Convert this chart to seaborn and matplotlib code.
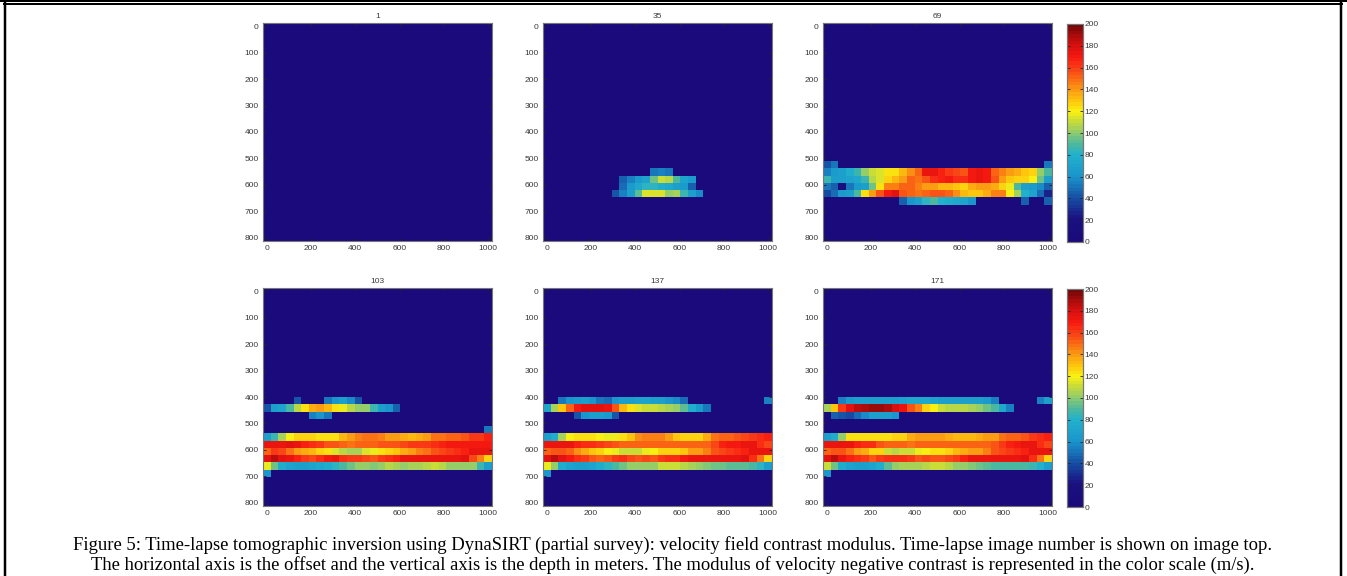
import numpy as np
import pandas as pd
import seaborn as sns
import matplotlib.pyplot as plt
from matplotlib.colors import LinearSegmentedColormap
from matplotlib.lines import Line2D

# image numbers on top of each panel
titles = ['1', '35', '69', '103', '137', '171']
x_ticks = [0, 200, 400, 600, 800, 1000]
y_ticks = [0, 100, 200, 300, 400, 500, 600, 700, 800]
cbar_ticks = [0, 20, 40, 60, 80, 100, 120, 140, 160, 180, 200]

# grid is 30 x 30 cells, offsets 0-1000 m, depth 0-800 m
n_cells = 30
offsets = np.linspace(0, 1000, n_cells)
depths = np.linspace(0, 800, n_cells)

# image 35: (row, first column, values)
p35_r20 = [50, 54, 50]
p35_r21 = [45, 55, 65, 70, 95, 110, 108, 90, 70, 65]
p35_r22 = [48, 65, 72, 82, 82, 78, 72, 68, 65, 45]
p35_r23 = [42, 55, 67, 92, 113, 113, 113, 103, 105, 85, 68, 58]

# image 69
p69_r19a = [42, 50]
p69_r19b = [50]
p69_r20 = [55, 65, 68, 75, 85, 103, 110, 115, 122, 124, 133, 143, 150, 172, 172,
           168, 160, 158, 156, 170, 172, 170, 150, 145, 138, 135, 130, 125, 100, 88]
p69_r21 = [85, 68, 68, 70, 72, 85, 108, 115, 128, 132, 140, 150, 148, 155, 165,
           168, 170, 165, 165, 170, 172, 170, 155, 140, 130, 125, 125, 120, 95, 68]
p69_r22 = [50, 45, 15, 50, 65, 68, 95, 122, 145, 145, 150, 150, 145, 140, 138,
           132, 132, 130, 128, 135, 138, 140, 135, 125, 118, 90, 68, 65, 58, 45]
p69_r23 = [40, 48, 65, 68, 90, 122, 138, 155, 170, 175, 155, 152, 148, 150, 155,
           155, 150, 142, 132, 130, 130, 135, 145, 145, 120, 105, 80, 70, 48, 25]
p69_r24a = [45, 62, 68, 82, 88, 80, 76, 74, 70, 62]
p69_r24b = [45]
p69_r24c = [45]

# image 103
p103_r15a = [42]
p103_r15b = [50, 60, 66, 58, 42]
p103_r16 = [42, 68, 70, 90, 108, 122, 135, 140, 132, 122, 118, 108, 103, 100, 85, 68, 62, 45]
p103_r17 = [55, 62, 50]
p103_r19 = [50]
p103_r20 = [68, 85, 105, 120, 125, 126, 126, 122, 124, 123, 132, 138, 145, 148, 148,
            145, 138, 140, 136, 134, 137, 140, 148, 148, 150, 152, 155, 160, 162, 168]
p103_r21 = [172, 172, 172, 175, 172, 168, 165, 162, 155, 155, 150, 148, 150, 150, 150,
            155, 155, 155, 158, 160, 160, 162, 165, 168, 170, 170, 170, 170, 170, 170]
p103_r22 = [150, 160, 158, 148, 140, 135, 132, 128, 122, 114, 108, 104, 104, 115, 118,
            122, 125, 130, 135, 140, 145, 148, 155, 158, 160, 165, 168, 172, 172, 172]
p103_r23 = [178, 185, 175, 172, 168, 160, 158, 165, 170, 172, 165, 162, 160, 158, 155,
            160, 165, 168, 172, 172, 172, 172, 172, 172, 172, 172, 175, 158, 145, 125]
p103_r24 = [118, 95, 75, 70, 66, 66, 70, 72, 75, 82, 90, 95, 100, 100, 98,
            102, 108, 105, 102, 104, 104, 108, 110, 108, 102, 100, 100, 100, 85, 68]
p103_r25 = [60]

# image 137
p137_r15a = [50, 62, 65, 68, 60, 52, 48, 60, 66, 68, 70, 70, 68, 68, 62, 58, 48]
p137_r15b = [55]
p137_r16 = [70, 105, 130, 152, 170, 175, 178, 176, 172, 155, 132, 122, 113, 112, 110,
            108, 105, 100, 92, 75, 65, 50]
p137_r17 = [42, 60, 66, 68, 65, 42]
p137_r20 = [68, 78, 105, 120, 122, 122, 122, 120, 118, 116, 122, 130, 142, 145, 145,
            145, 140, 130, 128, 126, 128, 135, 148, 150, 152, 155, 158, 162, 165, 168]
p137_r21 = [172, 172, 172, 172, 168, 165, 165, 160, 158, 155, 152, 150, 150, 150, 150,
            150, 150, 150, 150, 150, 150, 150, 158, 168, 170, 170, 172, 172, 165, 158]
p137_r22 = [150, 155, 155, 150, 142, 135, 130, 128, 120, 118, 112, 110, 112, 118, 120,
            125, 128, 128, 130, 138, 140, 145, 155, 158, 160, 165, 168, 172, 172, 172]
p137_r23 = [178, 185, 175, 170, 165, 160, 155, 150, 155, 160, 165, 158, 155, 158, 155,
            160, 165, 165, 170, 172, 172, 172, 172, 172, 172, 172, 175, 165, 148, 125]
p137_r24 = [118, 100, 78, 70, 68, 68, 70, 75, 82, 90, 96, 100, 100, 100, 100,
            110, 112, 112, 108, 105, 102, 98, 96, 94, 92, 92, 92, 88, 82, 68]
p137_r25 = [62]

# image 171
p171_r15a = [55, 65, 68, 68, 68, 66, 66, 66, 70, 72, 72, 72, 70, 68, 66, 66, 66, 66, 66, 64, 55]
p171_r15b = [55, 68]
p171_r16 = [105, 130, 160, 175, 185, 190, 192, 192, 188, 180, 172, 155, 145, 128, 120,
            110, 108, 108, 108, 106, 102, 95, 88, 72, 55]
p171_r17 = [45, 42, 38, 48, 58, 68, 68, 66, 60]
p171_r20 = [68, 78, 100, 122, 124, 124, 124, 122, 122, 125, 128, 135, 138, 140, 140,
            140, 136, 134, 132, 134, 136, 138, 140, 148, 150, 152, 155, 160, 165, 168]
p171_r21 = [172, 172, 172, 172, 168, 165, 165, 155, 150, 150, 150, 148, 150, 150, 150,
            150, 150, 150, 150, 150, 150, 150, 155, 160, 168, 170, 172, 172, 165, 158]
p171_r22 = [150, 155, 155, 148, 140, 135, 128, 125, 112, 108, 110, 112, 118, 120, 122,
            122, 125, 132, 135, 138, 140, 145, 155, 158, 160, 165, 168, 172, 172, 172]
p171_r23 = [178, 185, 172, 168, 165, 160, 155, 162, 165, 165, 165, 160, 155, 158, 155,
            155, 158, 162, 168, 172, 172, 172, 172, 172, 172, 172, 175, 165, 148, 125]
p171_r24 = [110, 95, 78, 70, 68, 68, 70, 78, 92, 100, 105, 105, 105, 108, 110,
            110, 108, 102, 100, 98, 96, 92, 90, 88, 88, 88, 88, 86, 80, 68]
p171_r25 = [62]

caption1 = ('Figure 5: Time-lapse tomographic inversion using DynaSIRT (partial survey): '
            'velocity field contrast modulus. Time-lapse image number is shown on image top.')
caption2 = ('The horizontal axis is the offset and the vertical axis is the depth in meters. '
            'The modulus of velocity negative contrast is represented in the color scale (m/s).')


def make_field(parts):
    # everything outside the listed runs is zero contrast
    field = np.zeros((n_cells, n_cells))
    for row, col, values in parts:
        field[row, col:col + len(values)] = values
    return pd.DataFrame(field, index=depths, columns=offsets)


fields = [
    make_field([]),
    make_field([(20, 14, p35_r20), (21, 10, p35_r21), (22, 10, p35_r22), (23, 9, p35_r23)]),
    make_field([(19, 0, p69_r19a), (19, 29, p69_r19b), (20, 0, p69_r20), (21, 0, p69_r21),
                (22, 0, p69_r22), (23, 0, p69_r23), (24, 10, p69_r24a), (24, 26, p69_r24b),
                (24, 29, p69_r24c)]),
    make_field([(15, 4, p103_r15a), (15, 8, p103_r15b), (16, 0, p103_r16), (17, 6, p103_r17),
                (19, 29, p103_r19), (20, 0, p103_r20), (21, 0, p103_r21), (22, 0, p103_r22),
                (23, 0, p103_r23), (24, 0, p103_r24), (25, 0, p103_r25)]),
    make_field([(15, 2, p137_r15a), (15, 29, p137_r15b), (16, 0, p137_r16), (17, 4, p137_r17),
                (20, 0, p137_r20), (21, 0, p137_r21), (22, 0, p137_r22), (23, 0, p137_r23),
                (24, 0, p137_r24), (25, 0, p137_r25)]),
    make_field([(15, 2, p171_r15a), (15, 28, p171_r15b), (16, 0, p171_r16), (17, 1, p171_r17),
                (20, 0, p171_r20), (21, 0, p171_r21), (22, 0, p171_r22), (23, 0, p171_r23),
                (24, 0, p171_r24), (25, 0, p171_r25)]),
]

# washed out jet, as it looks in the scanned colour bar
cmap = LinearSegmentedColormap.from_list('scan_jet', [
    (0.00, '#1a0a7c'), (0.10, '#1a1080'), (0.20, '#1650a6'), (0.30, '#1a96cc'),
    (0.40, '#22b2cc'), (0.45, '#4fb89c'), (0.50, '#8ccb70'), (0.55, '#c4da3c'),
    (0.60, '#f9f212'), (0.65, '#fdc60c'), (0.70, '#fb9c12'), (0.75, '#fa6e14'),
    (0.80, '#f94016'), (0.85, '#f81a10'), (0.90, '#dc1010'), (0.95, '#b00c0c'),
    (1.00, '#720808')], N=64)

W, H = 1347, 576
plt.rcParams['font.family'] = ['Liberation Sans', 'DejaVu Sans']
fig = plt.figure(figsize=(W / 100, H / 100), dpi=100, facecolor='white')

lefts = [263, 543, 823]
tops = [23, 288]
pw, ph = 229, 218
text_c = '#3a3a3a'


def to_cell(v, step):
    return v / step + 0.5


for i, field in enumerate(fields):
    r, c = divmod(i, 3)
    ax = fig.add_axes([lefts[c] / W, 1 - (tops[r] + ph) / H, pw / W, ph / H])
    last = c == 2
    cax = None
    if last:
        cax = fig.add_axes([1067 / W, 1 - (tops[r] + 1 + ph) / H, 16 / W, ph / H])
    sns.heatmap(field, ax=ax, cmap=cmap, vmin=0, vmax=200, cbar=last, cbar_ax=cax,
                xticklabels=False, yticklabels=False)
    ax.set_xlabel('')
    ax.set_ylabel('')
    ax.set_xticks([to_cell(v, 1000 / (n_cells - 1)) for v in x_ticks])
    ax.set_xticklabels(x_ticks, rotation=0)
    ax.set_yticks([to_cell(v, 800 / (n_cells - 1)) for v in y_ticks])
    ax.set_yticklabels(y_ticks, rotation=0)
    ax.tick_params(top=True, right=True, direction='in', length=2, width=0.6,
                   labelsize=6, labelcolor=text_c, color='#222222', pad=3)
    for s in ax.spines.values():
        s.set_visible(True)
        s.set_color('#777777')
        s.set_linewidth(0.8)
    ax.set_title(titles[i], fontsize=6, color=text_c, pad=3.5)
    if last:
        cax.set_yticks(cbar_ticks)
        cax.set_yticklabels(cbar_ticks)
        cax.tick_params(left=True, right=True, direction='in', length=2, width=0.6,
                        labelsize=6, labelcolor=text_c, color='#222222', pad=1)
        for s in cax.spines.values():
            s.set_visible(True)
            s.set_color('#777777')
            s.set_linewidth(0.8)

fig.text(0.4995, 1 - 545 / H, caption1, ha='center', va='center', fontsize=13.4,
         family='Liberation Serif', color='black')
fig.text(0.4995, 1 - 565 / H, caption2, ha='center', va='center', fontsize=13.4,
         family='Liberation Serif', color='black')

# page frame around the figure
frame = [([0, W], [1, 1], 2), ([4, 1342], [4, 4], 2), ([5, 5], [3, H], 2.5), ([1341, 1341], [3, H], 2.5)]
for xs, ys, lw in frame:
    fig.add_artist(Line2D([x / W for x in xs], [1 - y / H for y in ys], color='black', lw=lw * 0.72))

fig.savefig('out.png', dpi=100)
